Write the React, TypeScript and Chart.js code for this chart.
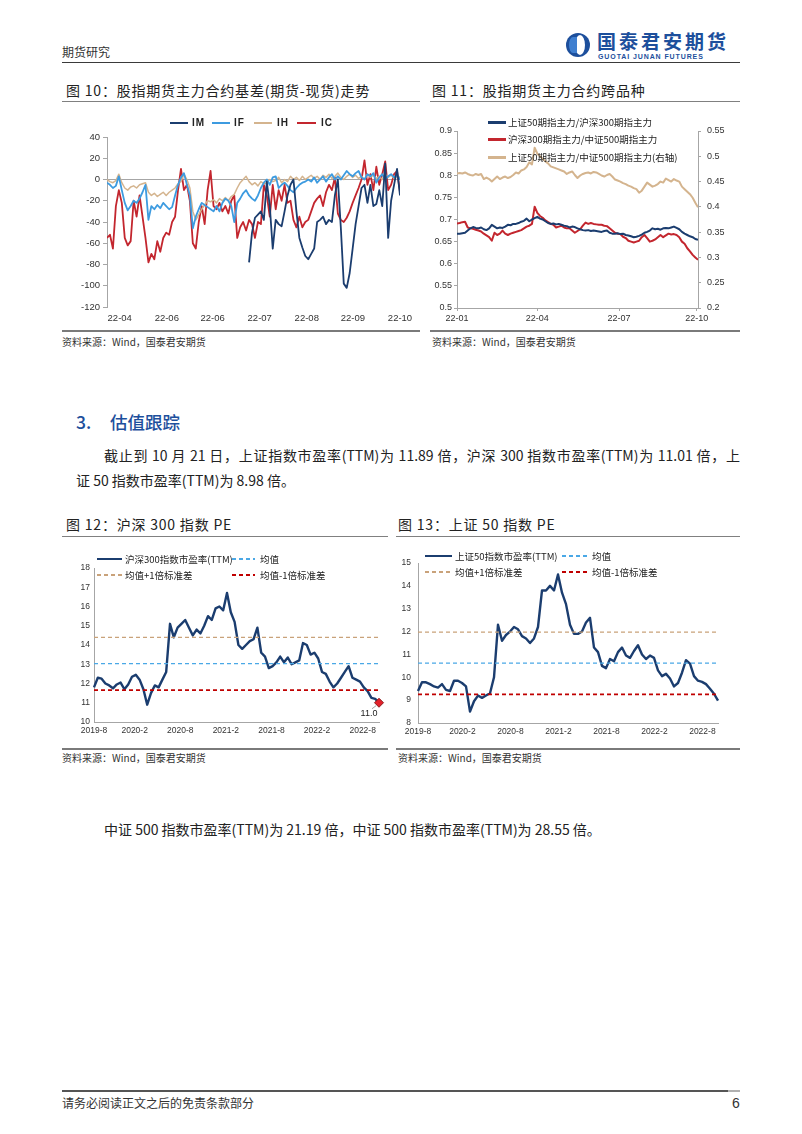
import React, { useEffect, useRef } from 'react';
import { Chart, registerables } from 'chart.js';

Chart.register(...registerables);

const LATIN = "'Liberation Sans', Arial, sans-serif";
const CJK = "'Noto Sans CJK SC', 'Noto Sans', sans-serif";

const NAVY = '#1b3d6f';
const LIGHT_BLUE = '#3d9be0';
const TAN = '#d4b48e';
const RED = '#c3262e';
const AXIS = '#a6a6a6';
const TICK_TEXT = '#333333';

// ---------- Figure 10: basis (futures - spot) ----------
const BASIS_TICK_POS = [4.3, 20.2, 35.7, 51.6, 67.5, 83.1, 99];
const BASIS_TICK_LABELS = ['22-04', '22-06', '22-06', '22-07', '22-08', '22-09', '22-10'];
const BASIS_IM_START = 48;
const BASIS_IM = [
  -78, -50, -36, -33, -30, -38, -2, -25, -65, -38,
  -42, -44, -30, -15, -5, 0, -30, -55, -64, -72,
  -75, -70, -65, -40, -38, -35, -42, -38, -40, -15,
  0, -45, -98, -102, -88, -65, -42, -25, -8, -5,
  -22, -5, -25, -23, -10, -25, 15, -55, -20, -5,
  10, -15,
];
const BASIS_IF = [
  -3, -5, -8, -6, 3, -10, -22, -29, -25, -20,
  -22, -18, -12, -5, -38, -25, -28, -24, -27, -22,
  -25, -28, -26, -15, -5, 2, 6, -5, -15, -46,
  -35, -28, -22, -24, -26, -28, -30, -25, -30, -22,
  -18, -20, -25, -40, -22, -18, -13, -10, -15, -18,
  -20, -15, -8, -3, 0, -5, 2, 3, -8, -5,
  -3, -6, -10, -12, -8, -5, -3, -2, 0, -2,
  2, -3, 0, 3, -2, 2, 5, 0, 3, 0,
  4, 8, 5, 3, 6, 8, 2, 0, 5, 3,
  6, -3, 2, 5, 0, 3, 5, 2, 4, 0,
];
const BASIS_IH = [
  0, -2, -3, -1, 5, -3, -8, -10, -7, -6,
  -8, -5, -4, -3, -12, -15, -13, -16, -14, -12,
  -15, -12, -10, -8, -4, -2, 5, 0, -8, -30,
  -38, -33, -28, -24, -20, -21, -19, -22, -18, -20,
  -17, -20, -16, -14, -8, -3, 0, 3, -2, -5,
  -3, -6, -2, -4, -3, 0, -2, -1, 2, -3,
  0, -2, 3, 0, 2, -1, 3, 0, 2, 4,
  1, 3, 0, 4, 2, 5, 1, 3, 6, 2,
  0, 3, 5, 2, 4, 1, 3, 0, 5, 2,
  4, 1, 3, 0, 5, 2, 4, 1, 3, 2,
];
const BASIS_IC = [
  -55, -52, -65, -25, -10, -22, -55, -62, -58, -20,
  -35, -15, -35, -55, -78, -70, -75, -58, -68, -55,
  -50, -52, -40, -35, -10, 10, -10, -5, -20, -60,
  -65, -40, -25, -42, -10, 8, -25, -28, -22, -30,
  -25, -32, -20, -15, -55, -45, -40, -48, -38, -42,
  -55, -40, -42, -5, -15, -35, -5, -28, -10, -20,
  -5, -22, -20, -38, -45, -35, -45, -40, -38, -30,
  -22, -18, -15, -25, -12, -5, -10, 2, -32, -38,
  -40, -36, -30, -22, -15, -8, 0, 18, -5, 5,
  -10, 12, -5, 5, 17, -10, -5, 5, 8, -12,
];

// ---------- Figure 11: cross-index ratios ----------
const RATIO_TICK_POS = [0, 30, 60.5, 89.5];
const RATIO_TICK_LABELS = ['22-01', '22-04', '22-07', '22-10'];
const RATIO_50_300 = [
  0.668, 0.668, 0.669, 0.670, 0.675, 0.680, 0.683, 0.681, 0.680, 0.682,
  0.678, 0.676, 0.680, 0.688, 0.684, 0.680, 0.682, 0.681, 0.684, 0.688,
  0.687, 0.690, 0.690, 0.692, 0.695, 0.697, 0.702, 0.696, 0.700, 0.703,
  0.706, 0.702, 0.700, 0.696, 0.692, 0.690, 0.691, 0.689, 0.690, 0.688,
  0.686, 0.685, 0.682, 0.684, 0.683, 0.680, 0.678, 0.676, 0.675, 0.676,
  0.674, 0.675, 0.674, 0.673, 0.672, 0.674, 0.675, 0.670, 0.668, 0.668,
  0.669, 0.667, 0.668, 0.665, 0.664, 0.662, 0.660, 0.661, 0.663, 0.666,
  0.670, 0.672, 0.675, 0.680, 0.678, 0.679, 0.677, 0.680, 0.681, 0.680,
  0.682, 0.684, 0.681, 0.678, 0.672, 0.668, 0.665, 0.662, 0.660, 0.656,
  0.654,
];
const RATIO_300_500 = [
  0.691, 0.692, 0.694, 0.695, 0.682, 0.680, 0.679, 0.677, 0.675, 0.673,
  0.668, 0.664, 0.660, 0.652, 0.670, 0.665, 0.668, 0.675, 0.668, 0.665,
  0.668, 0.670, 0.672, 0.674, 0.676, 0.680, 0.684, 0.686, 0.690, 0.729,
  0.715, 0.708, 0.704, 0.698, 0.694, 0.690, 0.688, 0.682, 0.684, 0.686,
  0.682, 0.680, 0.680, 0.675, 0.670, 0.674, 0.678, 0.686, 0.693, 0.690,
  0.692, 0.690, 0.689, 0.688, 0.688, 0.686, 0.685, 0.680, 0.675, 0.670,
  0.668, 0.667, 0.661, 0.658, 0.652, 0.650, 0.648, 0.650, 0.652, 0.660,
  0.665, 0.658, 0.650, 0.652, 0.655, 0.660, 0.665, 0.660, 0.664, 0.668,
  0.666, 0.667, 0.665, 0.660, 0.650, 0.645, 0.635, 0.628, 0.620, 0.614,
  0.609,
];
const RATIO_50_500 = [
  0.466, 0.467, 0.466, 0.468, 0.465, 0.463, 0.462, 0.465, 0.463, 0.465,
  0.455, 0.458, 0.455, 0.450, 0.455, 0.460, 0.455, 0.458, 0.460, 0.457,
  0.459, 0.463, 0.468, 0.466, 0.472, 0.474, 0.479, 0.488, 0.484, 0.517,
  0.505, 0.500, 0.495, 0.490, 0.486, 0.480, 0.478, 0.476, 0.474, 0.472,
  0.470, 0.465, 0.468, 0.470, 0.463, 0.457, 0.462, 0.465, 0.467, 0.468,
  0.466, 0.469, 0.468, 0.465, 0.462, 0.460, 0.463, 0.465, 0.460, 0.454,
  0.452, 0.450, 0.447, 0.445, 0.442, 0.440, 0.437, 0.435, 0.428, 0.432,
  0.440, 0.448, 0.444, 0.440, 0.442, 0.445, 0.450, 0.448, 0.456, 0.453,
  0.450, 0.455, 0.452, 0.450, 0.440, 0.435, 0.430, 0.425, 0.418, 0.408,
  0.399,
];

// ---------- Figure 12 / 13: PE ----------
const PE_TICK_LABELS = ['2019-8', '2020-2', '2020-8', '2021-2', '2021-8', '2022-2', '2022-8'];
const PE300_TICK_POS = [0, 10.7, 22.7, 34.7, 46.7, 58.7, 70.7];
const PE300 = [
  11.8, 12.3, 12.25, 12.0, 11.9, 11.75, 11.95, 12.05, 11.7, 11.95,
  12.35, 12.45, 12.2, 11.7, 10.9, 11.5, 11.9, 11.8, 12.2, 12.6,
  15.1, 14.4, 14.9, 15.1, 15.3, 14.9, 14.5, 14.8, 14.6, 15.0,
  15.5, 15.3, 15.9, 16.0, 15.8, 16.7, 15.7, 15.2, 14.0, 13.8,
  14.0, 14.2, 14.3, 14.9, 13.6, 13.4, 12.8, 12.9, 13.1, 13.4,
  13.1, 13.35, 13.0, 13.1, 13.2, 14.1, 14.0, 13.5, 13.6, 13.3,
  12.6, 12.5, 12.1, 11.8, 12.0, 12.3, 12.6, 12.9, 12.3, 12.2,
  12.1, 11.8, 11.6, 11.25, 11.2, 11.0,
];
const PE300_MEAN = 13.03;
const PE300_PLUS_1SD = 14.4;
const PE300_MINUS_1SD = 11.66;

const PE50_TICK_POS = [0, 11.1, 23.1, 35.1, 47.1, 59.1, 71.1];
const PE50 = [
  9.4, 9.78, 9.78, 9.7, 9.6, 9.55, 9.7, 9.45, 9.4, 9.85,
  9.85, 9.75, 9.6, 8.5, 8.95, 9.2, 9.1, 9.2, 9.3, 10.0,
  12.3, 11.6, 11.85, 12.0, 12.2, 12.1, 11.8, 11.7, 11.5, 11.7,
  12.2, 13.8, 13.8, 14.0, 13.8, 14.5, 13.7, 13.2, 12.3, 11.9,
  11.9, 12.0, 12.4, 12.6, 11.3, 11.1, 10.5, 10.4, 10.8, 10.7,
  11.1, 11.3, 10.95, 10.85, 11.15, 11.4, 11.0, 10.8, 10.95, 10.85,
  10.3, 10.05, 10.15, 9.95, 9.6, 9.75, 10.2, 10.75, 10.6, 10.05,
  9.85, 9.8, 9.7, 9.5, 9.28, 8.98,
];
const PE50_MEAN = 10.62;
const PE50_PLUS_1SD = 11.98;
const PE50_MINUS_1SD = 9.25;

// ---------- helpers ----------
const pts = (arr: (number | null)[], start = 0) => arr.map((v, i) => ({ x: start + i, y: v }));
const trimNum = (v: any) => String(Number(Number(v).toFixed(2)));

function fixedXAxis(min: number, max: number, pos: number[], labels: string[], opts: any) {
  return {
    type: 'linear',
    min,
    max,
    afterBuildTicks: (axis: any) => {
      axis.ticks = pos.map((v) => ({ value: v }));
    },
    afterFit: (axis: any) => {
      axis.height = opts.height;
    },
    ticks: {
      autoSkip: false,
      maxRotation: 0,
      minRotation: 0,
      padding: opts.padding,
      color: TICK_TEXT,
      font: { family: LATIN, size: opts.fontSize },
      callback: (_v: any, i: number) => labels[i],
    },
    grid: {
      display: opts.drawTicks,
      drawOnChartArea: false,
      drawTicks: opts.drawTicks,
      tickLength: opts.tickLength || 0,
      color: AXIS,
    },
    border: { display: opts.border, color: AXIS, width: 1 },
  };
}

function baseOptions(padding: any, scales: any) {
  return {
    responsive: true,
    maintainAspectRatio: false,
    animation: false,
    devicePixelRatio: 1,
    layout: { padding },
    plugins: { legend: { display: false }, tooltip: { enabled: false } },
    elements: { point: { radius: 0 }, line: { tension: 0, borderJoinStyle: 'round' } },
    scales,
  };
}

function makeBasis() {
  return {
    type: 'line',
    data: {
      datasets: [
        { label: 'IM', data: pts(BASIS_IM, BASIS_IM_START), borderColor: NAVY, borderWidth: 1.8 },
        { label: 'IF', data: pts(BASIS_IF), borderColor: LIGHT_BLUE, borderWidth: 1.8 },
        { label: 'IH', data: pts(BASIS_IH), borderColor: TAN, borderWidth: 1.5 },
        { label: 'IC', data: pts(BASIS_IC), borderColor: RED, borderWidth: 1.8 },
      ],
    },
    options: baseOptions(
      { top: 9, right: 20, bottom: 0, left: 0 },
      {
        x: fixedXAxis(0, 99, BASIS_TICK_POS, BASIS_TICK_LABELS, {
          height: 21, padding: 6, fontSize: 9.5, drawTicks: false, border: false,
        }),
        y: {
          min: -120,
          max: 40,
          afterFit: (a: any) => { a.width = 45; },
          ticks: { stepSize: 20, padding: 3, color: TICK_TEXT, font: { family: LATIN, size: 9.5 } },
          grid: {
            drawOnChartArea: true,
            drawTicks: true,
            tickLength: 4,
            tickColor: AXIS,
            color: (c: any) => (c.tick && c.tick.value === 0 ? AXIS : 'rgba(0,0,0,0)'),
          },
          border: { display: true, color: AXIS },
        },
      }
    ),
  };
}

function makeRatio() {
  const yTicks = { stepSize: 0.05, color: TICK_TEXT, font: { family: LATIN, size: 9 }, callback: trimNum };
  return {
    type: 'line',
    data: {
      datasets: [
        { label: '上证50期指主力/沪深300期指主力', data: pts(RATIO_50_300), borderColor: NAVY, borderWidth: 2, yAxisID: 'y' },
        { label: '沪深300期指主力/中证500期指主力', data: pts(RATIO_300_500), borderColor: RED, borderWidth: 2, yAxisID: 'y' },
        { label: '上证50期指主力/中证500期指主力(右轴)', data: pts(RATIO_50_500), borderColor: TAN, borderWidth: 2, yAxisID: 'y1' },
      ],
    },
    options: baseOptions(
      { top: 21, right: 0, bottom: 0, left: 0 },
      {
        x: fixedXAxis(0, 90, RATIO_TICK_POS, RATIO_TICK_LABELS, {
          height: 22, padding: 2, fontSize: 9, drawTicks: true, tickLength: 3, border: true,
        }),
        y: {
          position: 'left',
          min: 0.5,
          max: 0.9,
          afterFit: (a: any) => { a.width = 37; },
          ticks: { ...yTicks, padding: 2 },
          grid: { drawOnChartArea: false, drawTicks: true, tickLength: 3, color: AXIS },
          border: { display: true, color: AXIS },
        },
        y1: {
          position: 'right',
          min: 0.2,
          max: 0.55,
          afterFit: (a: any) => { a.width = 42; },
          ticks: { ...yTicks, padding: 6 },
          grid: { drawOnChartArea: false, drawTicks: true, tickLength: 3, color: AXIS },
          border: { display: true, color: AXIS },
        },
      }
    ),
  };
}

function refLine(label: string, value: number, max: number, color: string, width: number, dash: number[]) {
  return {
    label,
    data: [{ x: 0, y: value }, { x: max, y: value }],
    borderColor: color,
    borderWidth: width,
    borderDash: dash,
  };
}

function makePE(opts: any) {
  const n = opts.values.length;
  const max = n - 1;
  const plugins: any[] = [];
  if (opts.showLast) {
    plugins.push({
      id: 'lastValueLabel',
      afterDatasetsDraw(chart: any) {
        const meta = chart.getDatasetMeta(3);
        const p = meta.data[meta.data.length - 1];
        if (!p) return;
        const ctx = chart.ctx;
        ctx.save();
        ctx.strokeStyle = '#8c8c8c';
        ctx.lineWidth = 0.8;
        ctx.beginPath();
        ctx.moveTo(p.x - 3, p.y + 3);
        ctx.lineTo(p.x - 7, p.y + 6);
        ctx.stroke();
        ctx.fillStyle = '#222';
        ctx.font = `9px ${LATIN}`;
        ctx.textAlign = 'center';
        ctx.textBaseline = 'middle';
        ctx.fillText(opts.values[n - 1].toFixed(1), p.x - 10, p.y + 11);
        ctx.restore();
      },
    });
  }
  return {
    type: 'line',
    plugins,
    data: {
      datasets: [
        refLine('均值+1倍标准差', opts.plus, max, '#c9a27a', 1.3, [4, 3]),
        refLine('均值', opts.mean, max, '#4aa8e6', 1.3, [4, 3]),
        refLine('均值-1倍标准差', opts.minus, max, '#c00000', 1.8, [4, 3]),
        {
          label: opts.name,
          data: pts(opts.values),
          borderColor: NAVY,
          borderWidth: 2.4,
          clip: false,
          pointRadius: (c: any) => (opts.showLast && c.dataIndex === n - 1 ? 4.5 : 0),
          pointStyle: 'rectRot',
          pointBackgroundColor: '#e3202b',
          pointBorderColor: '#8b1a1a',
          pointBorderWidth: 1,
        },
      ],
    },
    options: baseOptions(opts.padding, {
      x: fixedXAxis(0, max, opts.tickPos, PE_TICK_LABELS, {
        height: opts.xHeight, padding: 4, fontSize: 8.5, drawTicks: false, border: true,
      }),
      y: {
        min: opts.min,
        max: opts.max,
        afterFit: (a: any) => { a.width = opts.yWidth; },
        ticks: { stepSize: 1, padding: opts.yPad, color: TICK_TEXT, font: { family: LATIN, size: 8.5 } },
        grid: { display: false, drawTicks: false },
        border: { display: true, color: AXIS },
      },
    }),
  };
}

function ChartBox({ left, top, width, height, make }: any) {
  const ref = useRef<HTMLCanvasElement>(null);
  useEffect(() => {
    const chart = new Chart(ref.current as HTMLCanvasElement, make());
    return () => chart.destroy();
  }, []);
  return (
    <div style={{ position: 'absolute', left, top, width, height }}>
      <canvas ref={ref} />
    </div>
  );
}

function Txt({ left, top, size, children, color = '#222', family = CJK, weight = 400, lh, style = {} }: any) {
  return (
    <div
      style={{
        position: 'absolute',
        left,
        top,
        fontSize: size,
        lineHeight: `${lh || size + 4}px`,
        fontFamily: family,
        color,
        fontWeight: weight,
        whiteSpace: 'nowrap',
        ...style,
      }}
    >
      {children}
    </div>
  );
}

function HLine({ left, top, width, color = '#808080', h = 1 }: any) {
  return <div style={{ position: 'absolute', left, top, width, height: h, background: color }} />;
}

function LegLine({ left, y, width, color, thick, dashed }: any) {
  const bg = dashed
    ? `repeating-linear-gradient(to right, ${color} 0 4px, transparent 4px 7px)`
    : color;
  return (
    <div
      style={{
        position: 'absolute',
        left,
        top: y - thick / 2,
        width,
        height: thick,
        background: bg,
      }}
    />
  );
}

function LegText({ left, y, size, children, family = CJK, weight = 400, style = {} }: any) {
  return (
    <div
      style={{
        position: 'absolute',
        left,
        top: y - 7,
        height: 14,
        lineHeight: '14px',
        fontSize: size,
        fontFamily: family,
        fontWeight: weight,
        color: '#222',
        whiteSpace: 'nowrap',
        ...style,
      }}
    >
      {children}
    </div>
  );
}

export default function App() {
  const blue = '#1d4f9c';
  const titleStyle = { letterSpacing: 0.8 };
  return (
    <div
      style={{
        position: 'absolute',
        left: 0,
        top: 0,
        width: 802,
        height: 1134,
        background: '#ffffff',
        overflow: 'hidden',
      }}
    >
      {/* header */}
      <Txt left={62} top={45} size={12} lh={14} color="#333">期货研究</Txt>
      <div
        style={{
          position: 'absolute', left: 566, top: 33, width: 24, height: 24, borderRadius: '50%', background: blue,
        }}
      >
        <div
          style={{
            position: 'absolute', left: 9, top: 2, width: 10, height: 20, borderRadius: '50%', background: '#ffffff',
          }}
        />
        <div
          style={{
            position: 'absolute', left: 3, top: 4, width: 8, height: 16, borderRadius: '50% 0 0 50%', background: '#3f7fd0',
          }}
        />
      </div>
      <Txt left={597} top={31} size={19} lh={20} color={blue} weight={700} style={{ letterSpacing: 3 }}>国泰君安期货</Txt>
      <Txt left={598} top={53} size={7} lh={8} color={blue} weight={700} family={LATIN} style={{ letterSpacing: 0.9 }}>
        GUOTAI JUNAN FUTURES
      </Txt>
      <HLine left={62} top={62} width={678} color="#3a3a3a" h={1} />

      {/* figure titles 10/11 */}
      <Txt left={66} top={82} size={14} lh={16} style={titleStyle}>图 10：股指期货主力合约基差(期货-现货)走势</Txt>
      <Txt left={432} top={82} size={14} lh={16} style={titleStyle}>图 11：股指期货主力合约跨品种</Txt>
      <HLine left={62} top={101} width={358} color="#808080" />
      <HLine left={430} top={101} width={310} color="#808080" />

      {/* chart 10 */}
      <ChartBox left={62} top={128} width={358} height={200} make={makeBasis} />
      <LegLine left={170} y={123} width={18} color={NAVY} thick={2.5} />
      <LegText left={192} y={123} size={10} family={LATIN} weight={700} style={{ letterSpacing: 1 }}>IM</LegText>
      <LegLine left={212} y={123} width={18} color={LIGHT_BLUE} thick={2.5} />
      <LegText left={234} y={123} size={10} family={LATIN} weight={700} style={{ letterSpacing: 1 }}>IF</LegText>
      <LegLine left={254} y={123} width={18} color={TAN} thick={2.5} />
      <LegText left={277} y={123} size={10} family={LATIN} weight={700} style={{ letterSpacing: 1 }}>IH</LegText>
      <LegLine left={297} y={123} width={19} color={RED} thick={2.5} />
      <LegText left={321} y={123} size={10} family={LATIN} weight={700} style={{ letterSpacing: 1 }}>IC</LegText>

      {/* chart 11 */}
      <ChartBox left={420} top={110} width={320} height={220} make={makeRatio} />
      <LegLine left={488} y={122} width={18} color={NAVY} thick={3} />
      <LegText left={508} y={122} size={9.5}>上证50期指主力/沪深300期指主力</LegText>
      <LegLine left={488} y={139} width={18} color={RED} thick={3} />
      <LegText left={508} y={139} size={9.5}>沪深300期指主力/中证500期指主力</LegText>
      <LegLine left={488} y={157} width={18} color={TAN} thick={3} />
      <LegText left={508} y={157} size={9.5}>上证50期指主力/中证500期指主力(右轴)</LegText>

      <HLine left={62} top={330} width={358} color="#7a7a7a" h={1.5} />
      <HLine left={430} top={330} width={310} color="#7a7a7a" h={1.5} />
      <Txt left={62} top={336} size={10} lh={12} color="#333">资料来源：Wind，国泰君安期货</Txt>
      <Txt left={432} top={336} size={10} lh={12} color="#333">资料来源：Wind，国泰君安期货</Txt>

      {/* section heading */}
      <Txt left={76} top={411} size={17.5} lh={21} color={blue} weight={500}>3.</Txt>
      <Txt left={110} top={411} size={17.5} lh={21} color={blue} weight={500}>估值跟踪</Txt>

      <div
        style={{
          position: 'absolute', left: 104, top: 445, width: 636, fontSize: 14, lineHeight: '20px', fontFamily: CJK,
          color: '#222', textAlign: 'justify', textAlignLast: 'justify', whiteSpace: 'nowrap',
        }}
      >
        截止到 10 月 21 日，上证指数市盈率(TTM)为 11.89 倍，沪深 300 指数市盈率(TTM)为 11.01 倍，上
      </div>
      <Txt left={76} top={470} size={14} lh={20}>证 50 指数市盈率(TTM)为 8.98 倍。</Txt>

      {/* figure titles 12/13 */}
      <Txt left={66} top={516} size={14} lh={16} style={titleStyle}>图 12：沪深 300 指数 PE</Txt>
      <Txt left={398} top={516} size={14} lh={16} style={titleStyle}>图 13：上证 50 指数 PE</Txt>
      <HLine left={62} top={536} width={326} color="#808080" />
      <HLine left={396} top={536} width={344} color="#808080" />

      {/* chart 12 */}
      <ChartBox
        left={62}
        top={545}
        width={330}
        height={200}
        make={() =>
          makePE({
            name: '沪深300指数市盈率(TTM)', values: PE300, mean: PE300_MEAN, plus: PE300_PLUS_1SD, minus: PE300_MINUS_1SD,
            min: 10, max: 18, tickPos: PE300_TICK_POS, padding: { top: 23, right: 13, bottom: 0, left: 0 },
            xHeight: 23, yWidth: 32, yPad: 4, showLast: true,
          })
        }
      />
      <LegLine left={97} y={559} width={25} color={NAVY} thick={2.5} />
      <LegText left={125} y={559} size={9.5}>沪深300指数市盈率(TTM)</LegText>
      <LegLine left={232} y={559} width={23} color="#4aa8e6" thick={1.5} dashed />
      <LegText left={260} y={559} size={9.5}>均值</LegText>
      <LegLine left={97} y={575} width={25} color="#c9a27a" thick={1.5} dashed />
      <LegText left={125} y={575} size={9.5}>均值+1倍标准差</LegText>
      <LegLine left={232} y={575} width={23} color="#c00000" thick={2} dashed />
      <LegText left={260} y={575} size={9.5}>均值-1倍标准差</LegText>

      {/* chart 13 */}
      <ChartBox
        left={390}
        top={540}
        width={345}
        height={205}
        make={() =>
          makePE({
            name: '上证50指数市盈率(TTM)', values: PE50, mean: PE50_MEAN, plus: PE50_PLUS_1SD, minus: PE50_MINUS_1SD,
            min: 8, max: 15, tickPos: PE50_TICK_POS, padding: { top: 23, right: 17, bottom: 0, left: 0 },
            xHeight: 22, yWidth: 28, yPad: 7, showLast: false,
          })
        }
      />
      <LegLine left={425} y={556} width={27} color={NAVY} thick={2.5} />
      <LegText left={455} y={556} size={9.5}>上证50指数市盈率(TTM)</LegText>
      <LegLine left={562} y={556} width={25} color="#4aa8e6" thick={1.5} dashed />
      <LegText left={592} y={556} size={9.5}>均值</LegText>
      <LegLine left={425} y={572} width={27} color="#c9a27a" thick={1.5} dashed />
      <LegText left={455} y={572} size={9.5}>均值+1倍标准差</LegText>
      <LegLine left={562} y={572} width={25} color="#c00000" thick={2} dashed />
      <LegText left={592} y={572} size={9.5}>均值-1倍标准差</LegText>

      <HLine left={62} top={748} width={326} color="#7a7a7a" h={1.5} />
      <HLine left={396} top={748} width={344} color="#7a7a7a" h={1.5} />
      <Txt left={62} top={752} size={10} lh={12} color="#333">资料来源：Wind，国泰君安期货</Txt>
      <Txt left={398} top={752} size={10} lh={12} color="#333">资料来源：Wind，国泰君安期货</Txt>

      <Txt left={104} top={819} size={14} lh={20}>
        中证 500 指数市盈率(TTM)为 21.19 倍，中证 500 指数市盈率(TTM)为 28.55 倍。
      </Txt>

      {/* footer */}
      <HLine left={62} top={1090} width={666} color="#555555" h={1.5} />
      <HLine left={728} top={1090} width={12} color="#b0b0b0" h={1.5} />
      <Txt left={62} top={1096} size={12} lh={14} color="#333">请务必阅读正文之后的免责条款部分</Txt>
      <Txt left={732} top={1095} size={14} lh={16} color="#333" family={LATIN}>6</Txt>
    </div>
  );
}
